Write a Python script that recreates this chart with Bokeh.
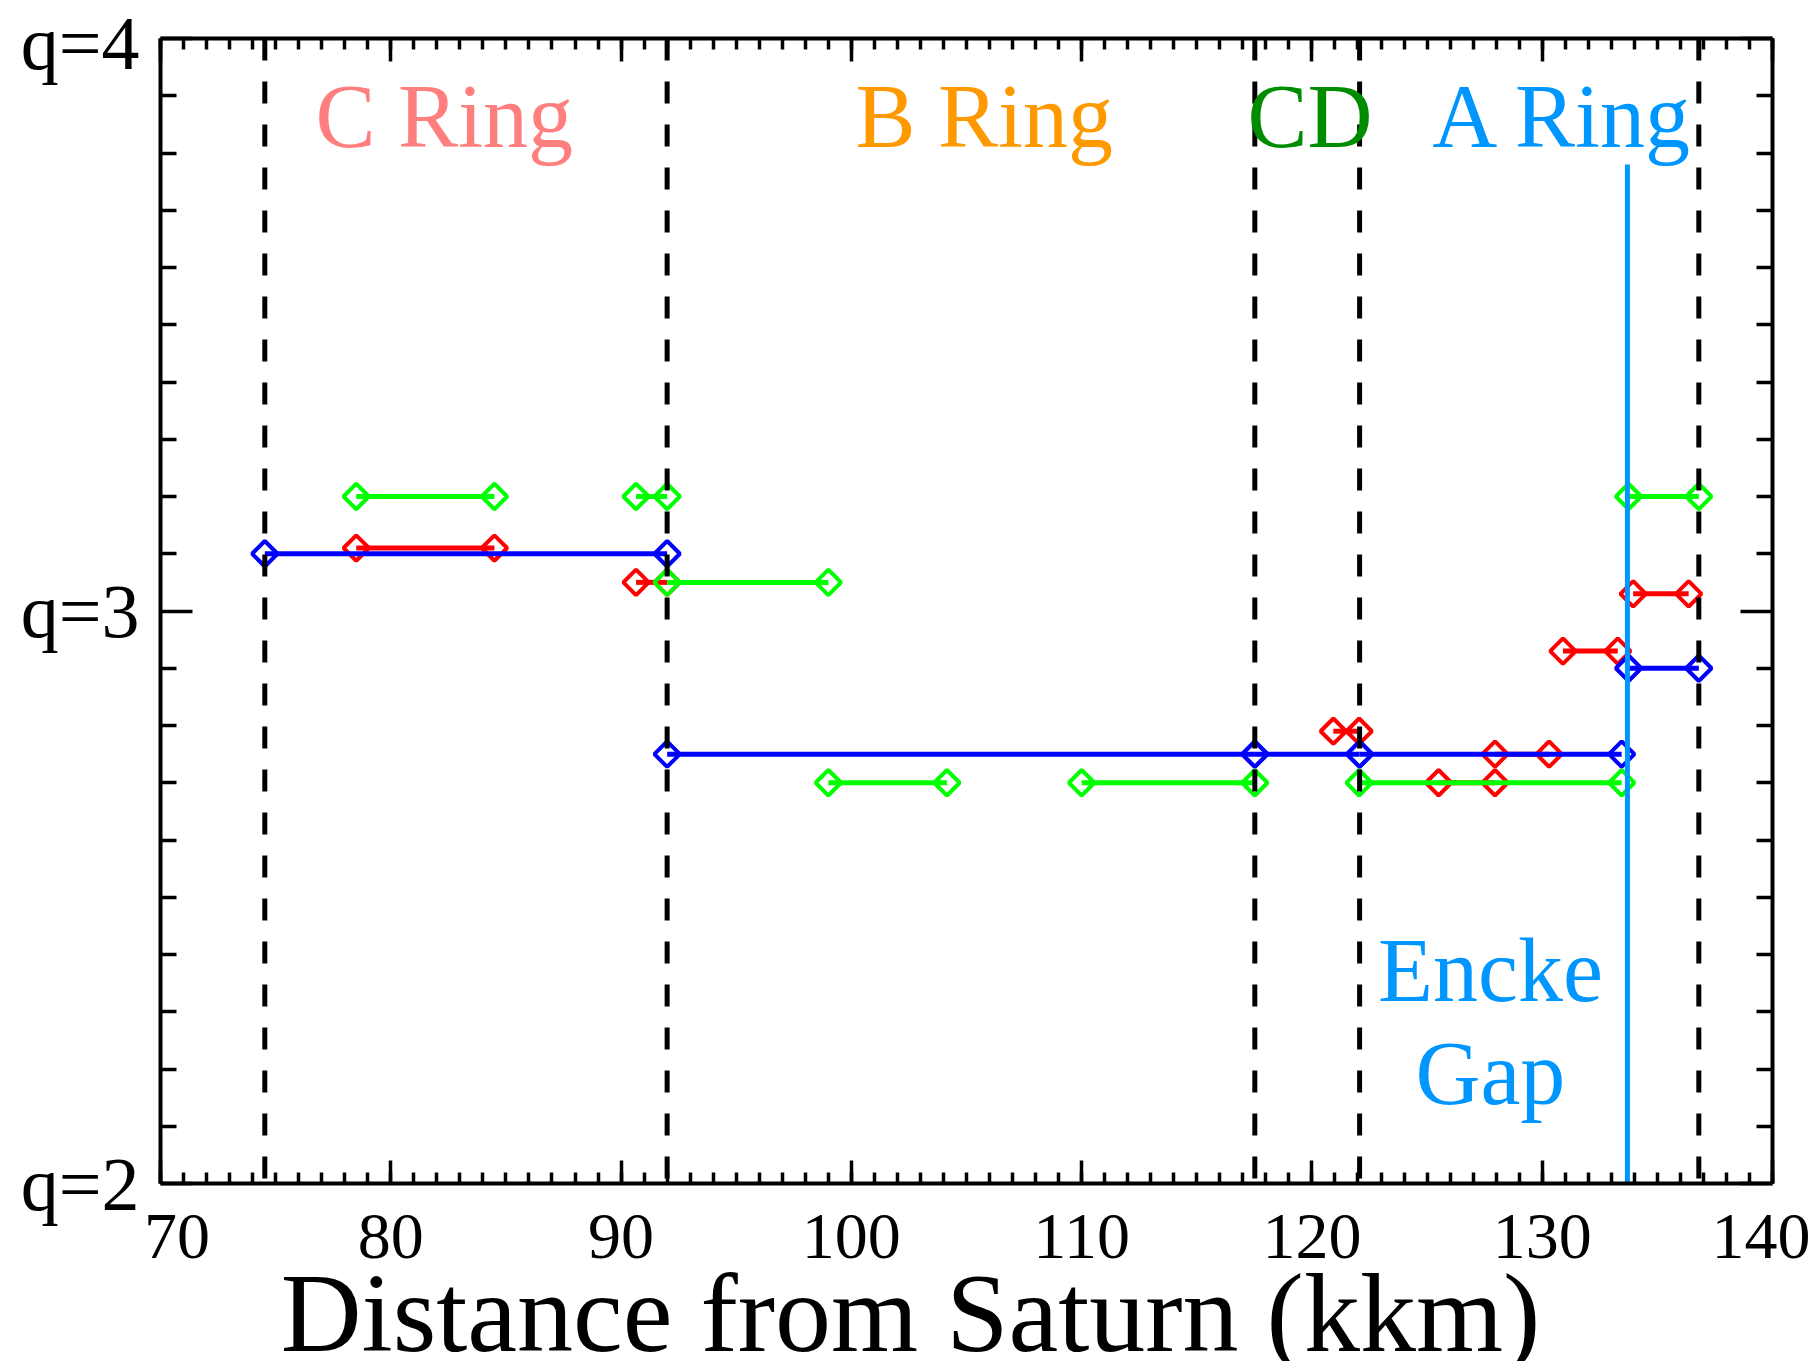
import math
from bokeh.plotting import figure
from bokeh.models import (Range1d, LinearAxis, SingleIntervalTicker, FixedTicker,
                          GlobalInlineStyleSheet)
from bokeh.core.properties import value
from bokeh.embed import file_html
from bokeh.resources import INLINE

# ---------------- data ----------------
ring_edges = [74.53, 92.0, 117.52, 122.07, 136.8]   # dashed ring boundaries (kkm)
encke_gap_x = 133.7
encke_gap_top = 3.78

green_x0 = [78.5, 90.65, 92.0, 99.0, 110.0, 122.05, 133.75]
green_x1 = [84.5, 92.0, 99.0, 104.15, 117.52, 133.45, 136.8]
green_q = [3.20, 3.20, 3.05, 2.70, 2.70, 2.70, 3.20]

red_x0 = [78.5, 90.65, 120.93, 125.5, 127.95, 130.9, 133.95]
red_x1 = [84.5, 92.0, 122.05, 127.95, 130.3, 133.28, 136.36]
red_q = [3.11, 3.05, 2.79, 2.70, 2.75, 2.93, 3.03]

blue_x0 = [74.53, 92.0, 117.52, 122.07, 133.75]
blue_x1 = [92.0, 117.52, 122.07, 133.45, 136.8]
blue_q = [3.10, 2.75, 2.75, 2.75, 2.90]

x_ticks = [70, 80, 90, 100, 110, 120, 130, 140]
x_tick_labels = ["\u200770", "80", "90", "100", "110", "120", "130", "140"]
y_ticks = [2, 3, 4]
y_tick_labels = ["q=2", "q=3", "q=4"]

ring_names = ["C Ring", "B Ring", "CD", "A Ring"]
ring_colors = ["#FF7F7F", "#FF9900", "#008C00", "#0096FF"]
ring_label_x = [76.73, 100.18, 117.2, 125.23]
ring_label_y = [3.864, 3.864, 3.864, 3.864]
encke_text = ["Encke", "Gap"]
encke_text_x = [127.75, 127.75]
encke_text_y = [2.372, 2.192]

FONT = "Liberation Serif"

# ---------------- figure ----------------
p = figure(frame_width=1612, frame_height=1145,
           x_range=Range1d(70, 140), y_range=Range1d(2, 4),
           output_backend="svg", toolbar_location=None,
           x_axis_location=None, y_axis_location=None,
           min_border_left=160, min_border_right=38,
           min_border_top=38, min_border_bottom=120)
p.stylesheets = [GlobalInlineStyleSheet(css="html, body { margin: 0; padding: 0; overflow: hidden; }")]
p.grid.visible = False
p.outline_line_color = None
p.background_fill_color = "white"
p.border_fill_color = "white"

def common(ax, major_len, minor_len):
    ax.axis_line_width = 4
    ax.axis_line_color = "black"
    ax.major_tick_line_width = 3.5
    ax.minor_tick_line_width = 3.5
    ax.major_tick_in = major_len
    ax.major_tick_out = 0
    ax.minor_tick_in = minor_len
    ax.minor_tick_out = 0

def hide_labels(ax, ticks):
    ax.major_label_overrides = {t: "" for t in ticks}
    ax.major_label_text_font_size = "1px"
    ax.major_label_standoff = 0

def x_ticker():
    return SingleIntervalTicker(interval=10, num_minor_ticks=10)

def y_ticker():
    return FixedTicker(ticks=y_ticks,
                       minor_ticks=[2 + i / 10 for i in range(1, 20) if i != 10])

xb = LinearAxis(ticker=x_ticker())
common(xb, 23, 11)
xb.major_label_overrides = {t: l for t, l in zip(x_ticks, x_tick_labels)}
xb.major_label_text_font = FONT
xb.major_label_text_font_size = "66px"
xb.major_label_text_color = "black"
xb.major_label_standoff = 15
xb.axis_label = "Distance from Saturn (kkm)\u2007\u2007"
xb.axis_label_text_font = FONT
xb.axis_label_text_font_size = "112px"
xb.axis_label_text_font_style = "normal"
xb.axis_label_text_color = "black"
xb.axis_label_standoff = -24
p.add_layout(xb, "below")

xt = LinearAxis(ticker=x_ticker())
common(xt, 23, 11)
hide_labels(xt, x_ticks)
p.add_layout(xt, "above")

yl = LinearAxis(ticker=y_ticker())
common(yl, 32, 16)
yl.major_label_overrides = {t: l for t, l in zip(y_ticks, y_tick_labels)}
yl.major_label_text_font = FONT
yl.major_label_text_font_size = "76px"
yl.major_label_text_color = "black"
yl.major_label_standoff = 21
p.add_layout(yl, "left")

yr = LinearAxis(ticker=y_ticker())
common(yr, 32, 16)
hide_labels(yr, y_ticks)
p.add_layout(yr, "right")

# ---------------- data series ----------------
def series(x0, x1, q, color):
    p.segment(x0=x0, y0=q, x1=x1, y1=q, line_color=color, line_width=5)
    p.scatter(x=x0 + x1, y=q + q, marker="square", angle=math.pi / 4, size=18,
              fill_color=None, line_color=color, line_width=4)

series(red_x0, red_x1, red_q, "#FF0000")
series(green_x0, green_x1, green_q, "#00FF00")
series(blue_x0, blue_x1, blue_q, "#0000FF")

# ring boundaries
p.segment(x0=ring_edges, y0=[4] * len(ring_edges), x1=ring_edges, y1=[2] * len(ring_edges),
          line_color="black", line_width=5, line_dash="22 21")

# Encke gap
p.segment(x0=[encke_gap_x], y0=[encke_gap_top], x1=[encke_gap_x], y1=[2],
          line_color="#0096FF", line_width=5)

# ring labels
p.text(x=ring_label_x, y=ring_label_y, text=ring_names, text_color=ring_colors,
       text_font=value(FONT), text_font_size="90px",
       text_align="left", text_baseline="alphabetic")
p.text(x=encke_text_x, y=encke_text_y, text=encke_text, text_color="#0096FF",
       text_font=value(FONT), text_font_size="90px",
       text_align="center", text_baseline="alphabetic")

open("out.html", "w").write(file_html(p, INLINE))
